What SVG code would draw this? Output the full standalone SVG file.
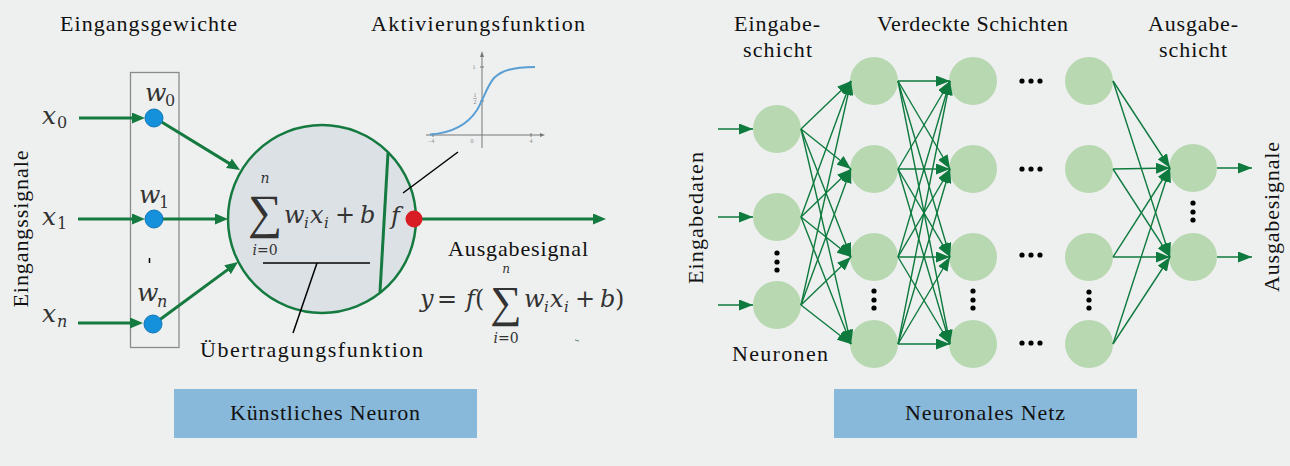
<svg xmlns="http://www.w3.org/2000/svg" width="1290" height="466" viewBox="0 0 1290 466">
<style>
.lbl{font-family:"Liberation Serif",serif;font-size:22px;fill:#111;}
.math{font-family:"DejaVu Serif",serif;font-style:italic;fill:#333;}
.sig{font-family:"Liberation Serif",serif;font-style:normal;fill:#333;}
.up{font-style:normal;}
.ax{stroke:#777;stroke-width:1;fill:none;}
.tick{font-family:"Liberation Serif",serif;font-size:6px;fill:#888;}
.ann{stroke:#000;stroke-width:1.5;fill:none;}
.na{stroke:#157a3f;stroke-width:3;fill:none;marker-end:url(#bigArrow);}
.ne{stroke:#0e7a3e;stroke-width:1.4;fill:none;marker-end:url(#netArrow);}
.node{fill:#b8d8b1;}
.dot{fill:#000;}
.w{fill:#1590da;stroke:#1276b8;stroke-width:1;}
</style>
<defs>
<marker id="bigArrow" markerUnits="userSpaceOnUse" markerWidth="13" markerHeight="11" viewBox="0 0 13 11" refX="7" refY="5.5" orient="auto">
<path d="M0,0 L13,5.5 L0,11 z" fill="#157a3f"/>
</marker>
<marker id="netArrow" markerUnits="userSpaceOnUse" markerWidth="14" markerHeight="11" viewBox="0 0 14 11" refX="14" refY="5.5" orient="auto">
<path d="M0,0 L14,5.5 L0,11 z" fill="#0e7a3e"/>
</marker>
</defs>
<rect x="0" y="0" width="1290" height="466" fill="#eef0f0"/>

<!-- ===== Left: artificial neuron ===== -->
<text class="lbl" x="148.5" y="31" text-anchor="middle" textLength="177" lengthAdjust="spacing">Eingangsgewichte</text>
<text class="lbl" x="478" y="31" text-anchor="middle" textLength="214" lengthAdjust="spacing">Aktivierungsfunktion</text>
<text class="lbl" transform="translate(28,229) rotate(-90)" text-anchor="middle" textLength="157" lengthAdjust="spacing">Eingangssignale</text>

<g id="weights-box">
<rect x="130.5" y="72.5" width="48.5" height="275" fill="none" stroke="#8a8a8a" stroke-width="1.3"/>
<line x1="149.5" y1="258" x2="149.5" y2="263" stroke="#000" stroke-width="1.5"/>
</g>

<g id="neuron">
<circle cx="322" cy="219" r="94" fill="#dce1e5" stroke="#157a3f" stroke-width="2.5"/>
<line x1="388" y1="153" x2="380" y2="292" stroke="#157a3f" stroke-width="3"/>
<text class="sig" x="265" y="228" font-size="48" text-anchor="middle">∑</text>
<text class="math" x="265" y="183" font-size="14" text-anchor="middle">n</text>
<text class="math" x="265" y="255" font-size="14" text-anchor="middle">i<tspan class="up">=0</tspan></text>
<text class="math" font-size="24"><tspan x="284" y="223">w</tspan><tspan x="304" y="228" font-size="15">i</tspan><tspan x="310" y="223">x</tspan><tspan x="324" y="228" font-size="15">i</tspan><tspan class="up" x="335" y="223">+</tspan><tspan x="360" y="223">b</tspan></text>
<text class="math" x="391" y="224" font-size="24">f</text>
</g>

<g id="sigmoid">
<line class="ax" x1="426" y1="135" x2="540" y2="135"/>
<path d="M540,133 L545,135 L540,137 z" fill="#777"/>
<line class="ax" x1="482" y1="148" x2="482" y2="56"/>
<path d="M480,57 L482,51 L484,57 z" fill="#777"/>
<line class="ax" x1="433" y1="133" x2="433" y2="137"/>
<line class="ax" x1="531" y1="133" x2="531" y2="137"/>
<line class="ax" x1="480" y1="67" x2="484" y2="67"/>
<line class="ax" x1="480" y1="101" x2="484" y2="101"/>
<text class="tick" x="474" y="69" text-anchor="middle">1</text>
<text class="tick" x="475" y="97" text-anchor="middle">1</text>
<line x1="473" y1="98.5" x2="477" y2="98.5" stroke="#888" stroke-width="0.6"/>
<text class="tick" x="475" y="104" text-anchor="middle">2</text>
<text class="tick" x="431" y="143" text-anchor="middle">−4</text>
<text class="tick" x="472" y="143" text-anchor="middle">0</text>
<text class="tick" x="531" y="143" text-anchor="middle">4</text>
<path d="M430,134.5 C452,133 468,124 477,110 C484,98 487,86 494,78 C502,70 512,67.5 535,67" fill="none" stroke="#5a9fd4" stroke-width="2"/>
</g>

<g id="annotations">
<line class="ann" x1="458" y1="152" x2="403" y2="193"/>
<line class="ann" x1="263" y1="263" x2="370" y2="263"/>
<line class="ann" x1="317" y1="263" x2="293" y2="333"/>
</g>

<g id="neuron-connectors">
<line class="na" x1="79" y1="118" x2="139" y2="118"/>
<line class="na" x1="78" y1="219" x2="139" y2="219"/>
<line class="na" x1="78" y1="323" x2="137" y2="323"/>
<line class="na" x1="160" y1="121" x2="234.9" y2="166.9"/>
<line class="na" x1="160" y1="219" x2="222" y2="219"/>
<line class="na" x1="158" y1="321" x2="233.2" y2="265.6"/>
<line class="na" x1="418" y1="219" x2="600" y2="219"/>
</g>

<g id="w0"><circle class="w" cx="154" cy="118" r="9"/>
<text class="math" font-size="25"><tspan x="145" y="101">w</tspan><tspan x="165" y="106" font-size="16" class="up">0</tspan></text></g>
<g id="w1"><circle class="w" cx="154" cy="219" r="9"/>
<text class="math" font-size="25"><tspan x="139" y="203">w</tspan><tspan x="159" y="208" font-size="16" class="up">1</tspan></text></g>
<g id="wn"><circle class="w" cx="153" cy="324" r="9"/>
<text class="math" font-size="25"><tspan x="137" y="301">w</tspan><tspan x="157" y="307" font-size="16">n</tspan></text></g>
<g id="x0"><text class="math" font-size="25"><tspan x="42" y="124">x</tspan><tspan x="57" y="128" font-size="16" class="up">0</tspan></text></g>
<g id="x1"><text class="math" font-size="25"><tspan x="42" y="225">x</tspan><tspan x="57" y="229" font-size="16" class="up">1</tspan></text></g>
<g id="xn"><text class="math" font-size="25"><tspan x="42" y="322">x</tspan><tspan x="57" y="327" font-size="16">n</tspan></text></g>

<g id="output-dot"><circle cx="414" cy="219" r="8.5" fill="#d81e24"/></g>

<g id="output-label">
<text class="lbl" x="518" y="256" text-anchor="middle" textLength="140" lengthAdjust="spacing">Ausgabesignal</text>
<text class="math" x="420" y="307" font-size="24">y</text>
<text class="math up" x="447" y="307" font-size="24" text-anchor="middle">=</text>
<text class="math" x="466" y="307" font-size="24">f<tspan class="up">(</tspan></text>
<text class="sig" x="506" y="317" font-size="44" text-anchor="middle">∑</text>
<text class="math" x="506" y="273" font-size="12" text-anchor="middle">n</text>
<text class="math" x="506" y="343" font-size="14" text-anchor="middle">i<tspan class="up">=0</tspan></text>
<text class="math" font-size="24"><tspan x="524" y="307">w</tspan><tspan x="544" y="312" font-size="15">i</tspan><tspan x="550" y="307">x</tspan><tspan x="564" y="312" font-size="15">i</tspan><tspan class="up" x="575" y="307">+</tspan><tspan x="600" y="307">b</tspan><tspan class="up" x="615" y="307">)</tspan></text>
<line x1="575" y1="340" x2="579" y2="341" stroke="#5a8a6a" stroke-width="1"/>
</g>

<text class="lbl" x="311.5" y="357" text-anchor="middle" textLength="223" lengthAdjust="spacing">Übertragungsfunktion</text>

<g id="caption-neuron">
<rect x="174" y="389" width="303" height="49" fill="#89b9da"/>
<text class="lbl" x="325" y="420" text-anchor="middle" textLength="190" lengthAdjust="spacing">Künstliches Neuron</text>
</g>

<!-- ===== Right: neural network ===== -->
<text class="lbl" x="777" y="31" text-anchor="middle" textLength="86" lengthAdjust="spacing">Eingabe-</text>
<text class="lbl" x="777.5" y="57" text-anchor="middle" textLength="69" lengthAdjust="spacing">schicht</text>
<text class="lbl" x="972.5" y="31" text-anchor="middle" textLength="191" lengthAdjust="spacing">Verdeckte Schichten</text>
<text class="lbl" x="1193" y="31" text-anchor="middle" textLength="90" lengthAdjust="spacing">Ausgabe-</text>
<text class="lbl" x="1193" y="57" text-anchor="middle" textLength="68" lengthAdjust="spacing">schicht</text>
<text class="lbl" transform="translate(703,218) rotate(-90)" text-anchor="middle" textLength="132" lengthAdjust="spacing">Eingabedaten</text>
<text class="lbl" transform="translate(1279,217) rotate(-90)" text-anchor="middle" textLength="150" lengthAdjust="spacing">Ausgabesignale</text>
<text class="lbl" x="780" y="361" text-anchor="middle" textLength="96" lengthAdjust="spacing">Neuronen</text>

<g id="in1"><circle class="node" cx="777" cy="129" r="24"/></g>
<g id="in2"><circle class="node" cx="777" cy="217" r="24"/></g>
<g id="in3"><circle class="node" cx="777" cy="305" r="24"/></g>
<g id="h1-1"><circle class="node" cx="874" cy="81" r="24"/></g>
<g id="h1-2"><circle class="node" cx="874" cy="169" r="24"/></g>
<g id="h1-3"><circle class="node" cx="874" cy="257" r="24"/></g>
<g id="h1-4"><circle class="node" cx="874" cy="344" r="24"/></g>
<g id="h2-1"><circle class="node" cx="973" cy="81" r="24"/></g>
<g id="h2-2"><circle class="node" cx="973" cy="169" r="24"/></g>
<g id="h2-3"><circle class="node" cx="973" cy="257" r="24"/></g>
<g id="h2-4"><circle class="node" cx="973" cy="344" r="24"/></g>
<g id="h3-1"><circle class="node" cx="1089" cy="81" r="24"/></g>
<g id="h3-2"><circle class="node" cx="1089" cy="169" r="24"/></g>
<g id="h3-3"><circle class="node" cx="1089" cy="257" r="24"/></g>
<g id="h3-4"><circle class="node" cx="1089" cy="344" r="24"/></g>
<g id="out1"><circle class="node" cx="1193" cy="168" r="24"/></g>
<g id="out2"><circle class="node" cx="1193" cy="257" r="24"/></g>

<g id="ellipses">
<circle class="dot" cx="777" cy="253" r="2.6"/><circle class="dot" cx="777" cy="262" r="2.6"/><circle class="dot" cx="777" cy="270" r="2.6"/>
<circle class="dot" cx="874" cy="291" r="2.6"/><circle class="dot" cx="874" cy="300" r="2.6"/><circle class="dot" cx="874" cy="308" r="2.6"/>
<circle class="dot" cx="973" cy="291" r="2.6"/><circle class="dot" cx="973" cy="300" r="2.6"/><circle class="dot" cx="973" cy="308" r="2.6"/>
<circle class="dot" cx="1089" cy="292" r="2.6"/><circle class="dot" cx="1089" cy="300" r="2.6"/><circle class="dot" cx="1089" cy="308" r="2.6"/>
<circle class="dot" cx="1193" cy="203" r="2.6"/><circle class="dot" cx="1193" cy="212" r="2.6"/><circle class="dot" cx="1193" cy="220" r="2.6"/>
<circle class="dot" cx="1022" cy="81" r="2.6"/><circle class="dot" cx="1031" cy="81" r="2.6"/><circle class="dot" cx="1040" cy="81" r="2.6"/>
<circle class="dot" cx="1022" cy="169" r="2.6"/><circle class="dot" cx="1031" cy="169" r="2.6"/><circle class="dot" cx="1040" cy="169" r="2.6"/>
<circle class="dot" cx="1022" cy="255" r="2.6"/><circle class="dot" cx="1031" cy="255" r="2.6"/><circle class="dot" cx="1040" cy="255" r="2.6"/>
<circle class="dot" cx="1022" cy="343" r="2.6"/><circle class="dot" cx="1031" cy="343" r="2.6"/><circle class="dot" cx="1040" cy="343" r="2.6"/>
</g>

<g id="network-connectors">
<line class="ne" x1="718" y1="129" x2="753" y2="129"/>
<line class="ne" x1="718" y1="217" x2="753" y2="217"/>
<line class="ne" x1="718" y1="305" x2="753" y2="305"/>

<line class="ne" x1="801" y1="129" x2="851" y2="81"/>
<line class="ne" x1="801" y1="129" x2="851" y2="169"/>
<line class="ne" x1="801" y1="129" x2="851" y2="257"/>
<line class="ne" x1="801" y1="129" x2="851" y2="344"/>
<line class="ne" x1="801" y1="217" x2="851" y2="81"/>
<line class="ne" x1="801" y1="217" x2="851" y2="169"/>
<line class="ne" x1="801" y1="217" x2="851" y2="257"/>
<line class="ne" x1="801" y1="217" x2="851" y2="344"/>
<line class="ne" x1="801" y1="305" x2="851" y2="81"/>
<line class="ne" x1="801" y1="305" x2="851" y2="169"/>
<line class="ne" x1="801" y1="305" x2="851" y2="257"/>
<line class="ne" x1="801" y1="305" x2="851" y2="344"/>

<line class="ne" x1="898" y1="81" x2="950" y2="81"/>
<line class="ne" x1="898" y1="81" x2="950" y2="169"/>
<line class="ne" x1="898" y1="81" x2="950" y2="257"/>
<line class="ne" x1="898" y1="81" x2="950" y2="344"/>
<line class="ne" x1="898" y1="169" x2="950" y2="81"/>
<line class="ne" x1="898" y1="169" x2="950" y2="169"/>
<line class="ne" x1="898" y1="169" x2="950" y2="257"/>
<line class="ne" x1="898" y1="169" x2="950" y2="344"/>
<line class="ne" x1="898" y1="257" x2="950" y2="81"/>
<line class="ne" x1="898" y1="257" x2="950" y2="169"/>
<line class="ne" x1="898" y1="257" x2="950" y2="257"/>
<line class="ne" x1="898" y1="257" x2="950" y2="344"/>
<line class="ne" x1="898" y1="344" x2="950" y2="81"/>
<line class="ne" x1="898" y1="344" x2="950" y2="169"/>
<line class="ne" x1="898" y1="344" x2="950" y2="257"/>
<line class="ne" x1="898" y1="344" x2="950" y2="344"/>

<line class="ne" x1="1113" y1="81" x2="1170" y2="168"/>
<line class="ne" x1="1113" y1="81" x2="1170" y2="257"/>
<line class="ne" x1="1113" y1="169" x2="1170" y2="168"/>
<line class="ne" x1="1113" y1="169" x2="1170" y2="257"/>
<line class="ne" x1="1113" y1="257" x2="1170" y2="168"/>
<line class="ne" x1="1113" y1="257" x2="1170" y2="257"/>
<line class="ne" x1="1113" y1="344" x2="1170" y2="168"/>
<line class="ne" x1="1113" y1="344" x2="1170" y2="257"/>

<line class="ne" x1="1217" y1="168" x2="1252" y2="168"/>
<line class="ne" x1="1217" y1="257" x2="1252" y2="257"/>
</g>

<g id="caption-network">
<rect x="834" y="389" width="303" height="49" fill="#89b9da"/>
<text class="lbl" x="985" y="420" text-anchor="middle" textLength="160" lengthAdjust="spacing">Neuronales Netz</text>
</g>
</svg>
